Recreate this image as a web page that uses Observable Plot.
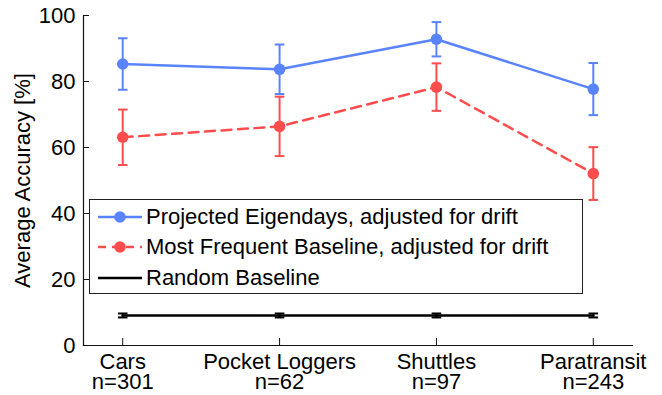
<!DOCTYPE html>
<html><head><meta charset="utf-8">
<script src="https://cdn.jsdelivr.net/npm/d3@7"></script>
<script src="https://cdn.jsdelivr.net/npm/@observablehq/plot@0.6"></script>
<style>
body{margin:0;background:#fff;font-family:"Liberation Sans",Arial,Helvetica,sans-serif;}
#wrap{position:relative;width:662px;height:395px;}
#legend{position:absolute;left:89px;top:199px;width:494px;height:95px;box-sizing:border-box;border:1.5px solid #222;background:#fff;}
.row{position:absolute;left:0;height:30px;display:flex;align-items:center;font-size:22px;color:#000;white-space:nowrap;}
.row svg{margin-left:8px;margin-right:3px;}
</style></head><body><div id="wrap"></div>
<script>
const categories = ["Cars", "Pocket Loggers", "Shuttles", "Paratransit"];
const counts = [301, 62, 97, 243];
const eigenMean = [85.3, 83.7, 92.8, 77.7];
const eigenErr = [7.8, 7.5, 5.2, 7.9];
const freqMean = [63.1, 66.4, 78.3, 52.1];
const freqErr = [8.4, 9.0, 7.2, 8.0];
const randMean = [9.1, 9.1, 9.1, 9.1];
const randErr = [0.6, 0.6, 0.6, 0.6];
const yTicks = [0, 20, 40, 60, 80, 100];
const seriesNames = ["Projected Eigendays, adjusted for drift", "Most Frequent Baseline, adjusted for drift", "Random Baseline"];
const blue = "#5a84ff", red = "#ff4d4d", black = "#000";

const xs = categories.map((_, i) => i + 1);
const mk = (mean, err) => mean.map((m, i) => ({x: i + 1, m, lo: m - err[i], hi: m + err[i]}));
const eigen = mk(eigenMean, eigenErr);
const freq = mk(freqMean, freqErr);
const rand = mk(randMean, randErr);

const cap = {draw(ctx, size) { const w = Math.sqrt(size / Math.PI); ctx.moveTo(-w, 0); ctx.lineTo(w, 0); }};

function series(data, color, lineWidth, lineOpts, r) {
  const marks = [
    Plot.line(data, {x: "x", y: "m", stroke: color, strokeWidth: lineWidth, ...lineOpts}),
    Plot.ruleX(data, {x: "x", y1: "lo", y2: "hi", stroke: color, strokeWidth: 2}),
    Plot.dot(data, {x: "x", y: "lo", symbol: cap, r: 4.8, stroke: color, strokeWidth: 2, fill: "none"}),
    Plot.dot(data, {x: "x", y: "hi", symbol: cap, r: 4.8, stroke: color, strokeWidth: 2, fill: "none"})
  ];
  if (r) marks.push(Plot.dot(data, {x: "x", y: "m", r, fill: color, stroke: "none"}));
  return marks;
}

const chart = Plot.plot({
  width: 662, height: 395,
  marginLeft: 83, marginRight: 30, marginTop: 15, marginBottom: 50,
  style: {fontFamily: '"Liberation Sans", Arial, Helvetica, sans-serif', fontSize: "22px", color: "#000", background: "white"},
  x: {domain: [0.75, 4.25]},
  y: {domain: [0, 100]},
  marks: [
    Plot.frame({anchor: "left", stroke: "#111", strokeWidth: 1.2}),
    Plot.frame({anchor: "bottom", stroke: "#111", strokeWidth: 1.2}),
    Plot.axisY(yTicks, {tickSize: -6, tickPadding: 14, fontSize: 22, label: "Average Accuracy [%]", labelAnchor: "center", labelOffset: 69, labelArrow: "none", stroke: "#111"}),
    Plot.axisX(xs, {tickSize: -7, tickPadding: 16, fontSize: 22, lineHeight: 0.91, label: null, stroke: "#111",
      tickFormat: i => `${categories[i - 1]}\nn=${counts[i - 1]}`}),
    ...series(rand, black, 2.5, {}, 0),
    ...series(freq, red, 2.5, {strokeDasharray: "10,6.5"}, 5.8),
    ...series(eigen, blue, 2.5, {}, 5.8)
  ]
});
const wrap = document.getElementById("wrap");
wrap.appendChild(chart);

const legend = document.createElement("div");
legend.id = "legend";
const specs = [
  {color: blue, dash: null, dot: true},
  {color: red, dash: "8,6", dot: true},
  {color: black, dash: null, dot: false}
];
const rowCenters = [18, 48, 79];
specs.forEach((s, i) => {
  const row = document.createElement("div");
  row.className = "row";
  row.style.top = (rowCenters[i] - 15 - 1.5) + "px";
  const dash = s.dash ? ` stroke-dasharray="${s.dash}"` : "";
  const dot = s.dot ? `<circle cx="22" cy="15" r="5.8" fill="${s.color}"/>` : "";
  row.innerHTML = `<svg width="45" height="30"><line x1="0" x2="44" y1="15" y2="15" stroke="${s.color}" stroke-width="2.5"${dash}/>${dot}</svg><span>${seriesNames[i]}</span>`;
  legend.appendChild(row);
});
wrap.appendChild(legend);
</script>
</body></html>
